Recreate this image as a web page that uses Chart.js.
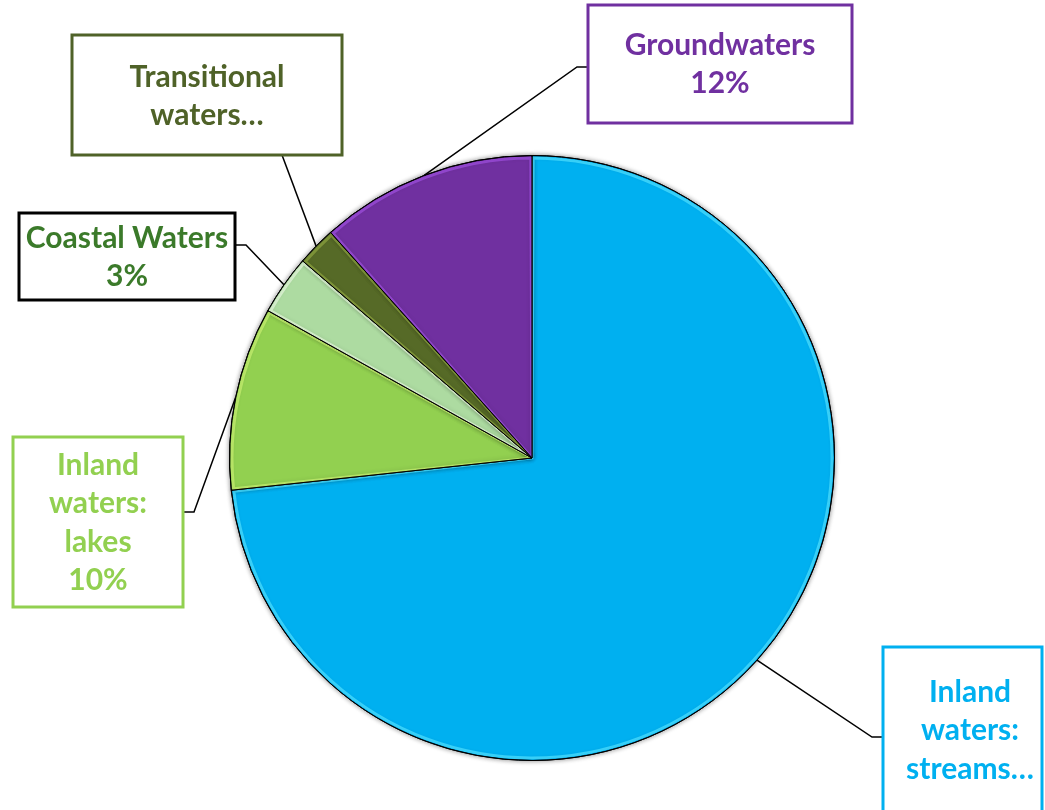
<!DOCTYPE html>
<html lang="en">
<head>
  <meta charset="UTF-8">
  <title>Water bodies</title>
  <script src="https://cdn.jsdelivr.net/npm/chart.js"></script>
  <style>
    html, body { margin: 0; padding: 0; background: #fff; }
    #wrap { width: 1045px; height: 810px; position: relative; }
  </style>
</head>
<body>
  <div id="wrap"><canvas id="waterPie"></canvas></div>

  <script>
    const categories = ['Inland waters: streams', 'Inland waters: lakes', 'Coastal Waters', 'Transitional waters', 'Groundwaters'];
    const shares = [73.3, 9.8, 3.2, 2.1, 11.6];
    const sliceColors = ['#00B0F0', '#92D050', '#ADDBA1', '#566A27', '#7030A0'];
    const sliceEdges = ['#4FE0FF', '#C8F070', '#E4F5DC', '#8FA540', '#A050E0'];

    // text shown in each callout; the share line is added from the data
    const labelLines = [
      ['Inland', 'waters:', 'streams…'],
      ['Inland', 'waters:', 'lakes'],
      ['Coastal Waters'],
      ['Transitional', 'waters…'],
      ['Groundwaters']
    ];
    const showShare = [false, true, true, false, true];

    // callout boxes and leader elbows
    const callouts = [
      { box: [883, 647, 159, 180], cx: 970, top: 702, stroke: '#00B0F0', color: '#00B0F0', path: [[872, 737], [883, 737]] },
      { box: [13, 437, 170, 170], cx: 98, top: 475, stroke: '#92D050', color: '#92D050', path: [[194, 512], [183, 512]] },
      { box: [19, 213, 216, 87], cx: 127, top: 248, stroke: '#000000', color: '#3B7A2A', path: [[246, 245], [235, 245]] },
      { box: [72, 35, 270, 120], cx: 207, top: 87, stroke: '#4F6228', color: '#4F6228', path: [[282, 155]] },
      { box: [588, 5, 264, 118], cx: 720, top: 55, stroke: '#7030A0', color: '#7030A0', path: [[577, 67], [588, 67]] }
    ];

    const total = shares.reduce((a, b) => a + b, 0);

    const pieShadow = {
      id: 'pieShadow',
      beforeDatasetDraw(chart) {
        const ctx = chart.ctx;
        ctx.save();
        ctx.shadowColor = 'rgba(0,0,0,0.45)';
        ctx.shadowBlur = 5;
      },
      afterDatasetDraw(chart) {
        const ctx = chart.ctx;
        ctx.restore();
        // light inner rim on each slice
        chart.getDatasetMeta(0).data.forEach((arc, i) => {
          const p = arc.getProps(['x', 'y', 'startAngle', 'endAngle', 'outerRadius'], true);
          ctx.save();
          ctx.beginPath();
          ctx.moveTo(p.x, p.y);
          ctx.arc(p.x, p.y, p.outerRadius - 1, p.startAngle, p.endAngle);
          ctx.closePath();
          ctx.clip();
          ctx.strokeStyle = sliceEdges[i];
          ctx.globalAlpha = 0.7;
          ctx.lineWidth = 3;
          ctx.beginPath();
          ctx.moveTo(p.x, p.y);
          ctx.arc(p.x, p.y, p.outerRadius - 2.5, p.startAngle + 0.004, p.endAngle - 0.004);
          ctx.closePath();
          ctx.stroke();
          ctx.restore();
          ctx.save();
          ctx.strokeStyle = '#000';
          ctx.lineWidth = 1;
          ctx.beginPath();
          ctx.moveTo(p.x, p.y);
          ctx.arc(p.x, p.y, p.outerRadius, p.startAngle, p.endAngle);
          ctx.closePath();
          ctx.stroke();
          ctx.restore();
        });
      }
    };

    const calloutPlugin = {
      id: 'callouts',
      afterDraw(chart) {
        const ctx = chart.ctx;
        const meta = chart.getDatasetMeta(0);
        meta.data.forEach((arc, i) => {
          const c = callouts[i];
          const p = arc.getProps(['x', 'y', 'startAngle', 'endAngle', 'outerRadius'], true);
          const mid = (p.startAngle + p.endAngle) / 2;
          const ax = p.x + Math.cos(mid) * p.outerRadius;
          const ay = p.y + Math.sin(mid) * p.outerRadius;

          ctx.save();
          ctx.strokeStyle = '#000';
          ctx.lineWidth = 1.5;
          ctx.beginPath();
          ctx.moveTo(ax, ay);
          c.path.forEach(([px, py]) => ctx.lineTo(px, py));
          ctx.stroke();

          const [bx, by, bw, bh] = c.box;
          ctx.fillStyle = '#fff';
          ctx.fillRect(bx, by, bw, bh);
          ctx.strokeStyle = c.stroke;
          ctx.lineWidth = 3;
          ctx.strokeRect(bx, by, bw, bh);

          const lines = labelLines[i].slice();
          if (showShare[i]) lines.push(Math.round(shares[i] / total * 100) + '%');
          ctx.fillStyle = c.color;
          ctx.font = 'bold 30px Lato';
          ctx.textAlign = 'center';
          ctx.textBaseline = 'alphabetic';
          lines.forEach((t, k) => ctx.fillText(t, c.cx, c.top + k * 38.3));
          ctx.restore();
        });
      }
    };

    new Chart(document.getElementById('waterPie'), {
      type: 'pie',
      data: {
        labels: categories,
        datasets: [{
          data: shares,
          backgroundColor: sliceColors,
          borderColor: '#000',
          borderWidth: 1
        }]
      },
      options: {
        responsive: true,
        maintainAspectRatio: false,
        animation: false,
        layout: { padding: { top: 155, bottom: 49, left: 229, right: 210 } },
        plugins: {
          legend: { display: false },
          tooltip: { enabled: false }
        }
      },
      plugins: [pieShadow, calloutPlugin]
    });
  </script>
</body>
</html>
